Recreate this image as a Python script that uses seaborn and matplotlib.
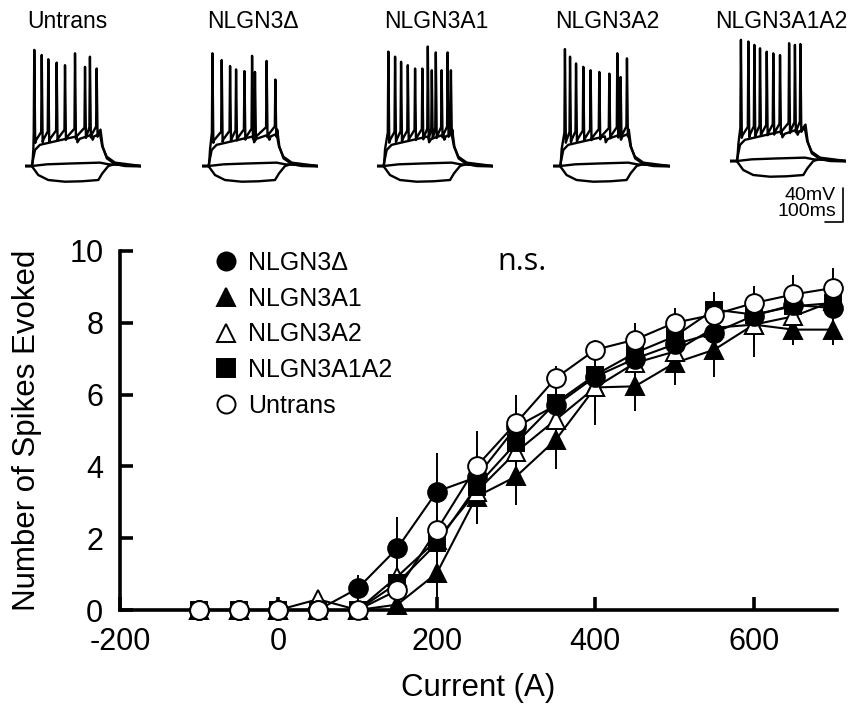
import matplotlib
matplotlib.use("Agg")
import matplotlib.pyplot as plt
import numpy as np
import pandas as pd
import seaborn as sns
from matplotlib.lines import Line2D

# ---- F-I curve data (mean number of spikes, SEM) ----
current = [-100, -50, 0, 50, 100, 150, 200, 250, 300, 350, 400, 450, 500, 550, 600, 650, 700]

untrans = [0, 0, 0, 0, 0, 0.55, 2.23, 4.0, 5.21, 6.46, 7.25, 7.53, 8.0, 8.23, 8.55, 8.79, 8.97]
untrans_err = [0, 0, 0, 0, 0, 0.15, 0.35, 0.45, 0.45, 0.33, 0.28, 0.47, 0.4, 0.45, 0.47, 0.55, 0.56]
nlgn3d = [0, 0, 0, 0, 0.6, 1.72, 3.3, 3.7, 5.1, 5.7, 6.5, 7.0, 7.4, 7.72, 8.2, 8.5, 8.41]
nlgn3d_err = [0, 0, 0, 0, 0.37, 0.88, 1.07, 1.3, 0.9, 0.6, 0.6, 0.5, 0.45, 0.5, 0.5, 0.5, 0.5]
nlgn3a1 = [0, 0, 0, 0, 0, 0.15, 1.03, 3.16, 3.72, 4.74, 6.2, 6.23, 6.88, 7.25, 7.95, 7.81, 7.81]
nlgn3a1_err = [0, 0, 0, 0, 0, 0.1, 1.0, 0.7, 0.8, 0.8, 0.7, 0.7, 0.6, 0.75, 0.6, 0.42, 0.42]
nlgn3a2 = [0, 0, 0, 0.3, 0, 0.93, 1.95, 3.3, 4.4, 5.3, 6.2, 6.88, 7.2, 7.86, 7.95, 8.18, 8.6]
nlgn3a2_err = [0, 0, 0, 0.15, 0, 0.3, 0.6, 0.9, 0.9, 0.8, 1.05, 0.6, 0.6, 0.5, 0.9, 0.6, 0.5]
nlgn3a1a2 = [0, 0, 0, 0, 0, 0.75, 1.86, 3.44, 4.65, 5.77, 6.55, 7.16, 7.62, 8.37, 8.23, 8.46, 8.55]
nlgn3a1a2_err = [0, 0, 0, 0, 0, 0.3, 0.5, 0.6, 0.5, 0.5, 0.5, 0.5, 0.5, 0.5, 0.4, 0.4, 0.4]

# ---- example traces (ms, mV) ----
trace_names = ["Untrans", "NLGN3Δ", "NLGN3A1", "NLGN3A2", "NLGN3A1A2"]
spike_t = [
    [51, 92, 128, 174, 220, 275, 330, 357, 394],
    [59, 110, 156, 189, 235, 277, 293, 357, 405],
    [64, 101, 134, 171, 211, 251, 281, 303, 325, 357, 390, 408],
    [64, 92, 125, 165, 205, 253, 308, 352, 370, 405],
    [60, 101, 134, 165, 202, 238, 275, 325, 357, 387],
]
spike_v = [
    [72, 66, 61, 57, 54, 68, 52, 64, 50],
    [68, 60, 53, 49, 47, 65, 46, 59, 37],
    [70, 64, 58, 54, 50, 50, 76, 48, 69, 48, 69, 48],
    [73, 64, 56, 52, 48, 46, 44, 68, 40, 62],
    [78, 76, 72, 68, 64, 62, 60, 74, 72, 73],
]
hyp_t = [0, 37, 73, 128, 220, 312, 403, 425, 458, 495, 550, 640]
hyp_v = [-65, -65, -75.6, -81.5, -83.5, -83, -81.5, -73.7, -65, -62.6, -65, -65.5]
flat_t = [0, 37, 120, 250, 412, 460, 640]
flat_v = [-65, -65, -63, -62, -61, -63, -65]
mid_t = [0, 37, 55, 82, 284, 288, 300, 367, 372, 380, 412, 425, 449, 495, 640]
mid_v = [-65, -65, -46, -40, -30, -37, -33, -28, -34, -30, -27, -42, -54, -61, -65]
train_thr = (-26, -18)
step_on, step_off = 40, 415

sns.set_style("ticks")
plt.rcParams["font.family"] = ["Liberation Sans", "DejaVu Sans"]
plt.rcParams["axes.unicode_minus"] = False
plt.rcParams["text.color"] = "black"
plt.rcParams["axes.labelcolor"] = "black"
plt.rcParams["xtick.color"] = "black"
plt.rcParams["ytick.color"] = "black"
plt.rcParams["axes.edgecolor"] = "black"

fig = plt.figure(figsize=(8.59, 7.25), dpi=100)
W, H = 859, 725


def train_trace(times, peaks):
    t, v = [0, step_on, step_on + 6], [-65, -65, -45]
    for ti, pk in zip(times, peaks):
        lvl = train_thr[0] + (train_thr[1] - train_thr[0]) * (ti - step_on) / (step_off - step_on)
        t += [ti - 3, ti, ti + 5, ti + 9]
        v += [lvl, pk, lvl - 12, lvl - 9]
    t += [step_off, step_off + 12, step_off + 35, step_off + 80, 640]
    v += [train_thr[1] - 4, -42, -56, -62.6, -65]
    return t, v


trace_left = [25, 201.7, 376.7, 553.3, 730]
trace_base = [166, 166, 166, 166, 161]
for i, name in enumerate(trace_names):
    top_px = trace_base[i] - 145 / 1.18
    tax = fig.add_axes([trace_left[i] / W, 1 - (top_px + 144.1) / H, 116.4 / W, 144.1 / H])
    tt, tv = train_trace(spike_t[i], spike_v[i])
    for x, y in [(hyp_t, hyp_v), (flat_t, flat_v), (mid_t, mid_v), (tt, tv)]:
        sns.lineplot(x=x, y=y, ax=tax, sort=False, estimator=None, color="black", lw=1.7)
    tax.set_xlim(0, 640)
    tax.set_ylim(-90, 80)
    tax.axis("off")
    fig.text([67.5, 253, 436, 607, 781][i] / W, 1 - 21 / H, name, ha="center", va="center", fontsize=16.5)
    if i == len(trace_names) - 1:
        tax.plot([621, 621, 521], [-97, -137, -137], color="black", lw=1.2, clip_on=False)
        tax.text(580, -106, "40mV", ha="right", va="center", fontsize=14)
        tax.text(583, -125, "100ms", ha="right", va="center", fontsize=14)

# ---- main F-I plot ----
ax = fig.add_axes([120 / W, 115 / H, 717 / W, 359 / H])

series = [
    ("NLGN3A1", nlgn3a1, nlgn3a1_err, "^", "black", 13),
    ("NLGN3A2", nlgn3a2, nlgn3a2_err, "^", "white", 13),
    ("NLGN3A1A2", nlgn3a1a2, nlgn3a1a2_err, "s", "black", 12),
    ("NLGN3Δ", nlgn3d, nlgn3d_err, "o", "black", 13.5),
    ("Untrans", untrans, untrans_err, "o", "white", 13.5),
]
for k, (name, vals, err, mk, fc, ms) in enumerate(series):
    ax.errorbar(current, vals, yerr=err, fmt="none", ecolor="black", elinewidth=1.4,
                capsize=0, zorder=2, clip_on=False)
    sns.lineplot(x=current, y=vals, ax=ax, color="black", lw=1.5, marker=mk, markersize=ms,
                 markerfacecolor=fc, markeredgecolor="black", markeredgewidth=1.4,
                 errorbar=None, clip_on=False, zorder=3 + k)

ax.set_xlim(-200, 705)
ax.set_ylim(0, 10)
ax.set_xticks([-200, 0, 200, 400, 600])
ax.set_yticks([0, 2, 4, 6, 8, 10])
sns.despine(ax=ax)
for s in ["left", "bottom"]:
    ax.spines[s].set_linewidth(2.6)
ax.tick_params(direction="in", length=9.5, width=2.6, labelsize=22, pad=12)
ax.set_xlabel("Current (A)", fontsize=22.5)
ax.set_ylabel("Number of Spikes Evoked", fontsize=22.5)
ax.xaxis.set_label_coords(0.5, -0.175)
ax.yaxis.set_label_coords(-0.109, 0.5)

legend_order = [("NLGN3Δ", "o", "black"), ("NLGN3A1", "^", "black"), ("NLGN3A2", "^", "white"),
                ("NLGN3A1A2", "s", "black"), ("Untrans", "o", "white")]
handles = [Line2D([], [], ls="none", marker=m, markersize=13, markerfacecolor=f,
                  markeredgecolor="black", markeredgewidth=1.4) for _, m, f in legend_order]
ax.legend(handles, [n for n, _, _ in legend_order], loc="upper left",
          bbox_to_anchor=((213 - 120) / 717, 1.0), frameon=False, fontsize=18,
          handlelength=1.0, handletextpad=0.4, labelspacing=0.47, borderpad=0, borderaxespad=0)

ax.text(307, 9.68, "n.s.", ha="center", va="center", fontsize=22, family=["Open Sans", "DejaVu Sans"])

fig.savefig("out.png", dpi=100)
